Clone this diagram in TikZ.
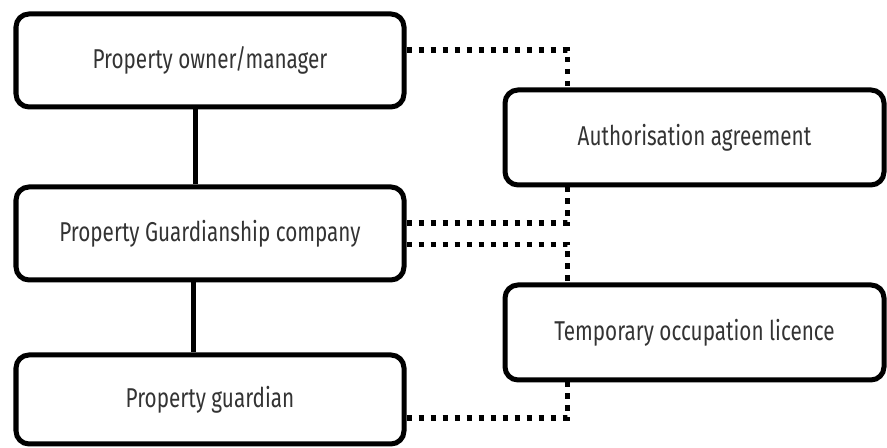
\documentclass[tikz,border=0pt]{standalone}
\usepackage{fontspec}
\setmainfont{Fira Sans}[FakeStretch=0.76]
\usepackage{tikz}

\begin{document}
\begin{tikzpicture}[
    party/.style={draw=black,line width=0.1cm,rounded corners=0.26cm,
        minimum width=7.76cm,minimum height=1.86cm,text=black!80,
        font=\fontsize{15.5}{18}\selectfont},
    paper/.style={party,minimum width=7.58cm,minimum height=1.9cm},
    solidlink/.style={draw=black,line width=0.1cm},
    dotlink/.style={draw=black,line width=0.11cm,dash pattern=on 0.11cm off 0.13cm}
]
\useasboundingbox (0,0) rectangle (17.74,8.96);

% left column
\node[party] (owner) at (4.2,7.75) {Property owner/manager};
\node[party] (company) at (4.2,4.29) {Property Guardianship company};
\node[party,minimum height=1.78cm] (guardian) at (4.2,0.97) {Property guardian};

% right column
\node[paper] (auth) at (13.89,6.21) {Authorisation agreement};
\node[paper] (licence) at (13.89,2.31) {Temporary occupation licence};

% Connections
\draw[solidlink] ([xshift=-0.3cm]owner.south) -- ([xshift=-0.3cm]company.north);
\draw[solidlink] ([xshift=-0.34cm]company.south) -- ([xshift=-0.34cm]guardian.north);

\draw[dotlink] ([yshift=0.21cm]owner.east) -| ([xshift=1.3cm]auth.north west);
\draw[dotlink] ([yshift=0.21cm]company.east) -| ([xshift=1.3cm]auth.south west);
\draw[dotlink] ([yshift=-0.22cm]company.east) -| ([xshift=1.3cm]licence.north west);
\draw[dotlink] ([yshift=-0.37cm]guardian.east) -| ([xshift=1.3cm]licence.south west);
\end{tikzpicture}
\end{document}
